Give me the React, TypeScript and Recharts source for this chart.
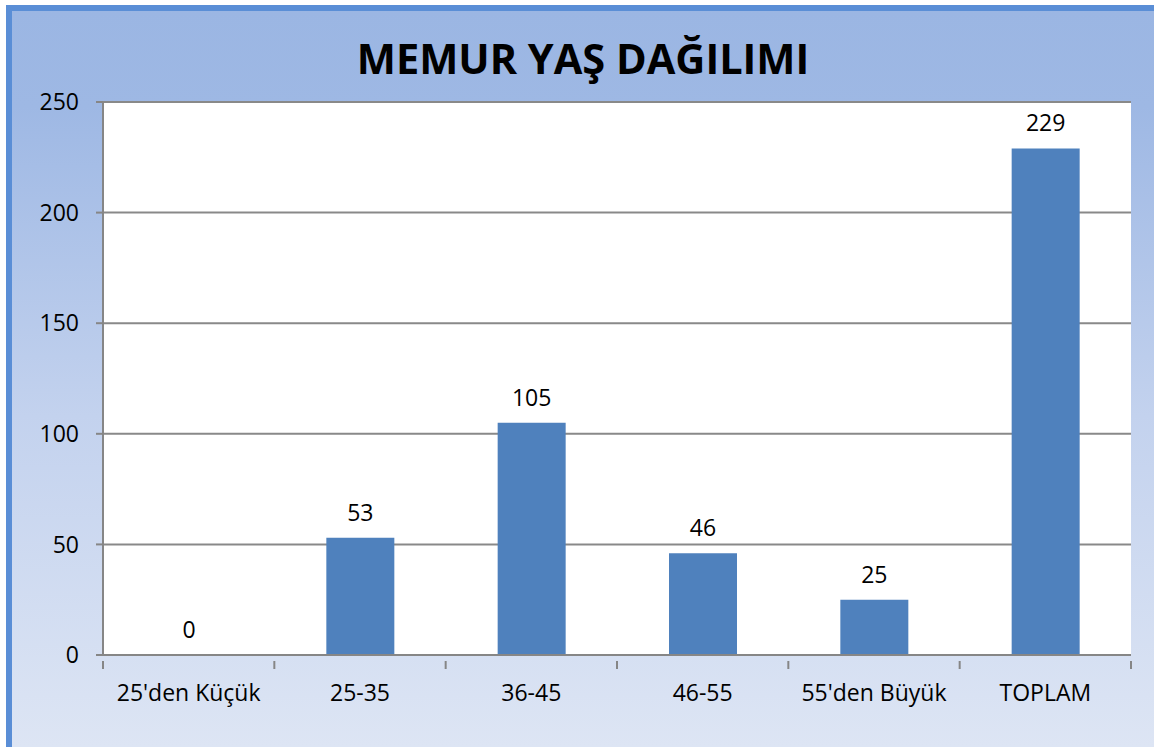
import React from 'react';
import { BarChart, Bar, XAxis, YAxis, CartesianGrid, LabelList } from 'recharts';

const categories = ["25'den Küçük", '25-35', '36-45', '46-55', "55'den Büyük", 'TOPLAM'];
const counts = [0, 53, 105, 46, 25, 229];
const yTicks = [0, 50, 100, 150, 200, 250];
const title = 'MEMUR YAŞ DAĞILIMI';

const data = categories.map((name, i) => ({ name, value: counts[i], label: String(counts[i]) }));

const FONT = '"Open Sans", "Liberation Sans", sans-serif';

const CategoryTick = (props: any) => {
  const { x, y, payload, index, visibleTicksCount, width } = props;
  const band = width / visibleTicksCount;
  const left = x - band / 2;
  const right = x + band / 2;
  const isLast = index === visibleTicksCount - 1;
  return (
    <g>
      <line x1={left} y1={y - 2} x2={left} y2={y + 6} stroke="#868686" strokeWidth={2} />
      {isLast && <line x1={right} y1={y - 2} x2={right} y2={y + 6} stroke="#868686" strokeWidth={2} />}
      <text x={x} y={y + 22} dy="0.71em" textAnchor="middle" fill="#000" fontSize={23} fontFamily={FONT}>
        {payload.value}
      </text>
    </g>
  );
};

const ValueLabel = (props: any) => {
  const { x, y, width, value } = props;
  return (
    <text x={x + width / 2} y={y - 17} textAnchor="middle" fill="#000" fontSize={23} fontFamily={FONT}>
      {value}
    </text>
  );
};

export default function App() {
  return (
    <div
      style={{
        position: 'absolute',
        left: 0,
        top: 0,
        width: 1154,
        height: 747,
        background: '#ffffff',
        overflow: 'hidden',
      }}
    >
      <div
        style={{
          position: 'absolute',
          left: 6,
          top: 5,
          width: 1148,
          height: 742,
          boxSizing: 'border-box',
          borderLeft: '6px solid #5a8ed6',
          borderTop: '6px solid #5a8ed6',
          background: 'linear-gradient(to bottom, #9bb6e3 0%, #9eb8e4 13%, #c3d2ee 55%, #dde5f4 100%)',
        }}
      />
      <div
        style={{
          position: 'absolute',
          left: 0,
          top: 29,
          width: 1166,
          textAlign: 'center',
          fontFamily: FONT,
          fontWeight: 700,
          fontSize: 41.5,
          lineHeight: '58px',
          color: '#000',
        }}
      >
        {title}
      </div>
      <div style={{ position: 'absolute', left: 0, top: 0 }}>
        <BarChart
          width={1154}
          height={747}
          data={data}
          margin={{ top: 102, right: 23, bottom: 62, left: 3 }}
          barCategoryGap="30%"
        >
          <CartesianGrid vertical={false} stroke="#898989" strokeWidth={2} fill="#ffffff" fillOpacity={1} />
          <XAxis
            dataKey="name"
            height={30}
            interval={0}
            tickLine={false}
            axisLine={{ stroke: '#868686', strokeWidth: 2 }}
            tick={<CategoryTick />}
          />
          <YAxis
            width={100}
            domain={[0, 250]}
            ticks={yTicks}
            interval={0}
            tickSize={7}
            tickMargin={17}
            tickLine={{ stroke: '#868686', strokeWidth: 2 }}
            axisLine={{ stroke: '#868686', strokeWidth: 2 }}
            tick={{ fill: '#000', fontSize: 23, fontFamily: FONT }}
          />
          <Bar dataKey="value" fill="#4f81bd" barSize={68} minPointSize={0.01} isAnimationActive={false}>
            <LabelList dataKey="label" content={<ValueLabel />} />
          </Bar>
        </BarChart>
      </div>
    </div>
  );
}
